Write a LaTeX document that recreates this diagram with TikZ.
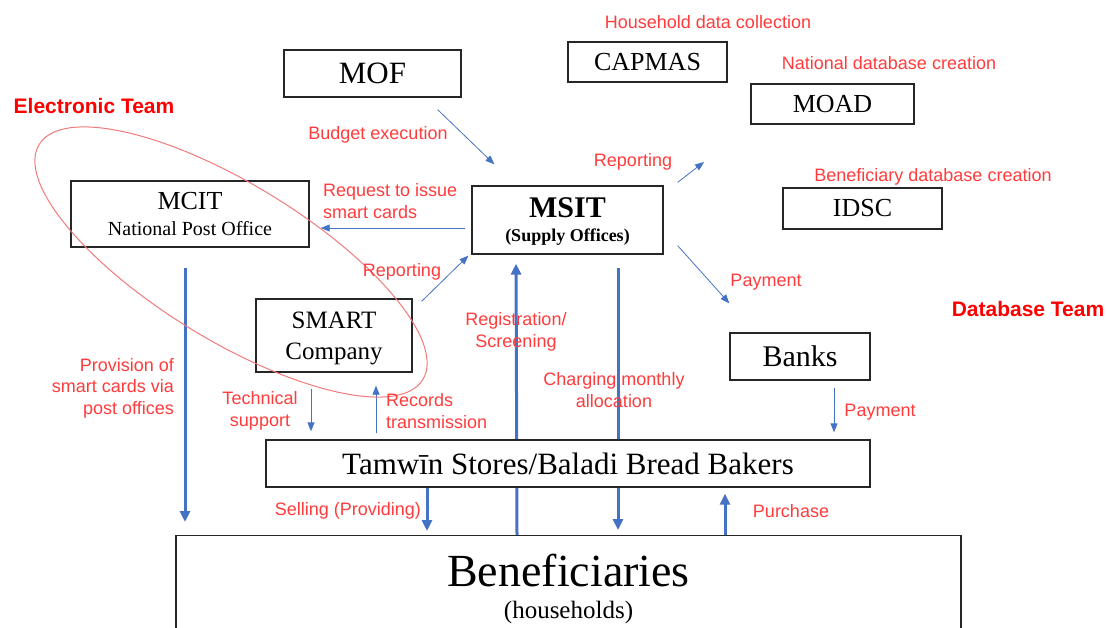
\documentclass[tikz,border=0pt]{standalone}
\usepackage{fontspec}
\setmainfont{Liberation Serif}
\setsansfont{Liberation Sans}
\usetikzlibrary{arrows.meta}
\definecolor{flowblue}{HTML}{4472C4}
\definecolor{labelred}{HTML}{FF3B3B}
\definecolor{teamred}{HTML}{FF0000}
\definecolor{ringred}{HTML}{F07A7A}
\tikzset{
	agency/.style={draw=black!85,line width=1.3pt,inner sep=0pt,align=center},%
	flowlabel/.style={text=labelred,font=\sffamily\fontsize{18}{21.5}\selectfont,inner sep=0pt},%
	teamlabel/.style={text=teamred,font=\sffamily\bfseries\fontsize{21}{24}\selectfont,inner sep=0pt},%
	thinflow/.style={flowblue,line width=0.8pt,-{Triangle[length=9pt 0,width=7pt 0]}},%
	thickflow/.style={flowblue,line width=3pt,-{Triangle[length=11pt 0,width=10pt 0]}},%
	teamring/.style={ringred,line width=1pt},%
}
\def\ringangle{-31.5}

\begin{document}
\begin{tikzpicture}[x=1pt,y=-1pt]
	\useasboundingbox (0,0) rectangle (1107,628);
	\clip (0,0) rectangle (1107,628);
	\node[agency,minimum width=177,minimum height=47,font=\fontsize{31}{31}\selectfont] (mof) at (372.5,73.5) {MOF};
	\node[agency,minimum width=159,minimum height=40,font=\fontsize{26}{26}\selectfont] (capmas) at (647.5,62) {CAPMAS};
	\node[agency,minimum width=163,minimum height=40,font=\fontsize{26}{26}\selectfont] (moad) at (832.5,104) {MOAD};
	\node[agency,minimum width=159,minimum height=41,font=\fontsize{26}{26}\selectfont] (idsc) at (862.5,208.5) {IDSC};
	\node[agency,minimum width=191,minimum height=68,text depth=0pt,font=\bfseries\fontsize{18}{24}\selectfont] (msit) at (567.5,220) {{\fontsize{30}{30}\selectfont MSIT}\\(Supply Offices)};
	\node[agency,minimum width=238,minimum height=66,font=\fontsize{20}{26}\selectfont] (mcit) at (190,214) {{\fontsize{26}{26}\selectfont MCIT}\\National Post Office};
	\node[agency,minimum width=156,minimum height=73,text depth=0pt,font=\fontsize{25}{31}\selectfont] (smart) at (334,335.5) {SMART\\Company};
	\node[agency,minimum width=140,minimum height=47,font=\fontsize{30}{30}\selectfont] (banks) at (800,356.5) {Banks};
	\node[agency,anchor=north,minimum width=785,minimum height=106,font=\fontsize{25}{32}\selectfont] (benef) at (568.5,535) {{\fontsize{46}{46}\selectfont Beneficiaries}\\(households)};
	\draw[thickflow,shorten >=9pt] ([xshift=-51.5]benef.north) -- ([xshift=-51.5]msit.south);
	\draw[thickflow,shorten <=13pt,shorten >=5pt] ([xshift=50.5]msit.south) -- ([xshift=50.5]msit.south |- benef.north);
	\node[agency,fill=white,minimum width=604,minimum height=47,text depth=0pt,font=\fontsize{31}{31}\selectfont] (tamwin) at (568,463.5) {Tamwīn Stores/Baladi Bread Bakers};
	\draw[thickflow,shorten <=20pt,shorten >=13pt] ([xshift=-5]mcit.south) -- ([xshift=-5]mcit.south |- benef.north);
	\draw[thickflow,shorten >=4pt] ([xshift=-141]tamwin.south) -- ([xshift=-141]tamwin.south |- benef.north);
	\draw[thickflow,shorten >=6pt] ([xshift=157]tamwin.south |- benef.north) -- ([xshift=157]tamwin.south);
	\draw[thinflow,shorten <=16pt,shorten >=8pt] ([xshift=-23]smart.south) -- ([xshift=-23]smart.south |- tamwin.north);
	\draw[thinflow,shorten <=6pt,shorten >=13pt] ([xshift=42]smart.south |- tamwin.north) -- ([xshift=42]smart.south);
	\draw[thinflow,shorten <=7pt,shorten >=7pt] ([xshift=34]banks.south) -- ([xshift=34]banks.south |- tamwin.north);
	\draw[thinflow] ([shift={(-24,12)}]mof.south east) -- ([shift={(23,-21)}]msit.north west);
	\draw[thinflow] ([shift={(-6,8)}]msit.west) -- ([shift={(11,14)}]mcit.east);
	\draw[thinflow] ([shift={(9,3)}]smart.north east) -- ([shift={(-3,1)}]msit.south west);
	\coordinate (upreport) at (704,162);
	\draw[thinflow] ([shift={(14,-3)}]msit.north east) -- (upreport);
	\draw[thinflow] ([shift={(14,-9)}]msit.south east) -- ([shift={(0,-29)}]banks.north west);
	\draw[teamring,rotate around={\ringangle:(231,262)}] (231,262) ellipse (225 and 78);
	\node[teamlabel] (eteam) at (94,106) {Electronic Team};
	\node[teamlabel] (dbteam) at (1028,309) {Database Team};
	\node[flowlabel] (lhouse) at (708,22) {Household data collection};
	\node[flowlabel] (lnational) at (889,63) {National database creation};
	\node[flowlabel] (lbenefdb) at (933,177) {Beneficiary database creation};
	\node[flowlabel] (lbudget) at (378,135) {Budget execution};
	\node[flowlabel,anchor=west,align=left] (lrequest) at (323,201) {Request to issue\\smart cards};
	\node[flowlabel] (lreportl) at (402,272) {Reporting};
	\node[flowlabel] (lreportr) at (633,162) {Reporting};
	\node[flowlabel] (lpayup) at (766,282) {Payment};
	\node[flowlabel] (lpaydown) at (880,412) {Payment};
	\node[flowlabel] (lpurchase) at (791,511) {Purchase};
	\node[flowlabel] (lselling) at (348,511) {Selling (Providing)};
	\node[flowlabel,align=center] (lregister) at (516,332) {Registration/\\Screening};
	\node[flowlabel,align=center] (lcharge) at (614,390) {Charging monthly\\allocation};
	\node[flowlabel,anchor=east,align=right] (lprovision) at (174,388) {Provision of\\smart cards via\\post offices};
	\node[flowlabel,align=center] (ltech) at (260,411) {Technical\\support};
	\node[flowlabel,anchor=west,align=left] (lrecords) at (386,411) {Records\\transmission};
\end{tikzpicture}
\end{document}
